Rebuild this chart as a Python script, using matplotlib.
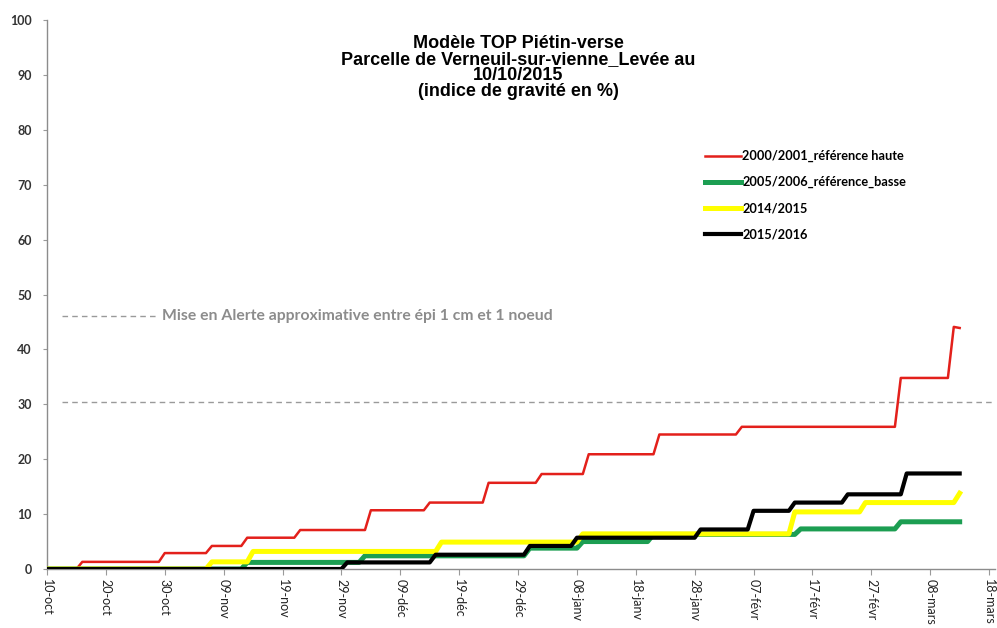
import matplotlib
matplotlib.use("Agg")
import matplotlib.pyplot as plt
import pandas as pd

# ---------------- data ----------------
start_date = "2015-10-10"
xtick_labels = ["10-oct", "20-oct", "30-oct", "09-nov", "19-nov", "29-nov",
                "09-déc", "19-déc", "29-déc", "08-janv", "18-janv", "28-janv",
                "07-févr", "17-févr", "27-févr", "08-mars", "18-mars"]
yticks = [0, 10, 20, 30, 40, 50, 60, 70, 80, 90, 100]

red_dates = ["2015-10-10", "2015-10-15", "2015-10-16", "2015-10-29", "2015-10-30",
             "2015-11-06", "2015-11-07", "2015-11-12", "2015-11-13", "2015-11-21",
             "2015-11-22", "2015-12-03", "2015-12-04", "2015-12-13", "2015-12-14",
             "2015-12-23", "2015-12-24", "2016-01-01", "2016-01-02", "2016-01-09",
             "2016-01-10", "2016-01-21", "2016-01-22", "2016-02-04", "2016-02-05",
             "2016-03-02", "2016-03-03", "2016-03-11", "2016-03-12", "2016-03-13"]
red_values = [0, 0, 1.3, 1.3, 2.9,
              2.9, 4.2, 4.2, 5.7, 5.7,
              7.1, 7.1, 10.7, 10.7, 12.1,
              12.1, 15.7, 15.7, 17.3, 17.3,
              20.9, 20.9, 24.5, 24.5, 25.9,
              25.9, 34.8, 34.8, 44.1, 43.9]

green_dates = ["2015-10-10", "2015-11-12", "2015-11-13", "2015-12-02", "2015-12-03",
               "2015-12-30", "2015-12-31", "2016-01-08", "2016-01-09", "2016-01-20",
               "2016-01-21", "2016-02-14", "2016-02-15", "2016-03-02", "2016-03-03",
               "2016-03-13"]
green_values = [0, 0, 1.2, 1.2, 2.4,
                2.4, 3.8, 3.8, 5.0, 5.0,
                6.3, 6.3, 7.3, 7.3, 8.6,
                8.6]

yellow_dates = ["2015-10-10", "2015-11-06", "2015-11-07", "2015-11-13", "2015-11-14",
                "2015-12-15", "2015-12-16", "2016-01-08", "2016-01-09", "2016-02-13",
                "2016-02-14", "2016-02-25", "2016-02-26", "2016-03-12", "2016-03-13"]
yellow_values = [0, 0, 1.3, 1.3, 3.2,
                 3.2, 4.9, 4.9, 6.4, 6.4,
                 10.4, 10.4, 12.1, 12.1, 13.8]

black_dates = ["2015-10-10", "2015-11-29", "2015-11-30", "2015-12-14", "2015-12-15",
               "2015-12-30", "2015-12-31", "2016-01-07", "2016-01-08", "2016-01-28",
               "2016-01-29", "2016-02-06", "2016-02-07", "2016-02-13", "2016-02-14",
               "2016-02-22", "2016-02-23", "2016-03-03", "2016-03-04", "2016-03-13"]
black_values = [0, 0, 1.2, 1.2, 2.6,
                2.6, 4.2, 4.2, 5.7, 5.7,
                7.2, 7.2, 10.6, 10.6, 12.1,
                12.1, 13.6, 13.6, 17.4, 17.4]

alert_upper = 46.0
alert_lower = 30.5
series_labels = ["2000/2001_référence haute", "2005/2006_référence_basse",
                 "2014/2015", "2015/2016"]
title_lines = ["Modèle TOP Piétin-verse",
               "Parcelle de Verneuil-sur-vienne_Levée au",
               "10/10/2015",
               "(indice de gravité en %)"]
alert_text = "Mise en Alerte approximative entre épi 1 cm et 1 noeud"

# ---------------- figure ----------------
W, H = 997, 628
AX_L, AX_R = 47, 995
AW = AX_R - AX_L
fig = plt.figure(figsize=(W / 100, H / 100), dpi=100)
ax = fig.add_axes([AX_L / W, 1 - 569 / H, AW / W, (569 - 20) / H])

t0 = pd.Timestamp(start_date)
xtick_pos = [t0 + pd.Timedelta(days=10 * i) for i in range(len(xtick_labels))]

def dts(lst):
    return pd.to_datetime(lst)

ax.plot(dts(red_dates), red_values, color="#E3201B", lw=1.8, label=series_labels[0],
        solid_joinstyle="round", zorder=3)
ax.plot(dts(green_dates), green_values, color="#1C9E52", lw=3.6, label=series_labels[1],
        solid_joinstyle="round", zorder=3)
ax.plot(dts(yellow_dates), yellow_values, color="#FFFF00", lw=3.6, label=series_labels[2],
        solid_joinstyle="round", zorder=3)
ax.plot(dts(black_dates), black_values, color="#000000", lw=3.0, label=series_labels[3],
        solid_joinstyle="round", zorder=4)

def axfrac(px):
    return (px - AX_L) / AW

# alert lines
ax.axhline(alert_lower, xmin=axfrac(62), xmax=1.0, color="#9A9A9A", lw=1.0,
           ls=(0, (4, 3)), zorder=2)
ax.plot([axfrac(62), axfrac(158)], [alert_upper, alert_upper],
        transform=ax.get_yaxis_transform(),
        color="#9A9A9A", lw=1.0, ls=(0, (4, 3)), zorder=2)
ax.text(axfrac(162), alert_upper, alert_text, transform=ax.get_yaxis_transform(),
        fontfamily="Lato", fontweight="bold", fontsize=11.3, color="#8C8C8C",
        va="center", ha="left")

ax.set_xlim(t0, t0 + pd.Timedelta(days=161))
ax.set_ylim(0, 100)
ax.set_xticks(xtick_pos)
ax.set_xticklabels(xtick_labels, rotation=270, fontfamily="Lato", fontsize=9,
                   color="#222222")
ax.set_yticks(yticks)
ax.set_yticklabels([str(v) for v in yticks], fontfamily="Lato", fontweight="bold",
                   fontsize=9, color="#333333")
ax.tick_params(axis="y", direction="out", length=3, width=0.8, color="#9A9A9A", pad=8)
ax.tick_params(axis="x", direction="out", length=4, width=0.8, color="#9A9A9A", pad=3)
for s in ["top", "right"]:
    ax.spines[s].set_visible(False)
for s in ["left", "bottom"]:
    ax.spines[s].set_color("#8C8C8C")
    ax.spines[s].set_linewidth(1.0)

title_y_px = [41.5, 57.3, 73.0, 89.5]
for line, ypx in zip(title_lines, title_y_px):
    fig.text(518 / W, 1 - ypx / H, line, ha="center", va="center_baseline",
             fontfamily="Liberation Sans", fontweight="bold", fontsize=13,
             color="#000000")

leg = ax.legend(loc="upper left", bbox_to_anchor=(705 / W, 1 - 150 / H),
                bbox_transform=fig.transFigure, frameon=False,
                prop={"family": "Lato", "weight": "bold", "size": 9.2},
                handlelength=2.8, handletextpad=0.1, labelspacing=1.1,
                borderpad=0, borderaxespad=0)

fig.savefig("out.png", dpi=100, facecolor="white")
